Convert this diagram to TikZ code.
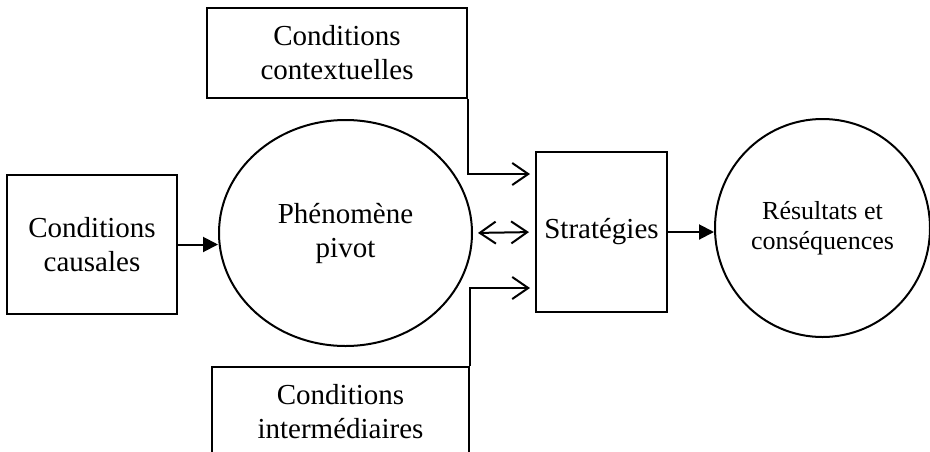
\documentclass[tikz,border=0pt]{standalone}
\usepackage{fontspec}
\setmainfont{Liberation Serif}
\usetikzlibrary{arrows.meta,shapes.geometric}
\begin{document}
\begin{tikzpicture}[x=1pt,y=-1pt,
  line width=2pt,
  box/.style={draw,rectangle,align=center,inner sep=0pt,font=\fontsize{29}{34}\selectfont},
  oval/.style={draw,ellipse,align=center,inner sep=0pt,font=\fontsize{29}{34}\selectfont},
  solidarrow/.style={-{Triangle[length=15pt,width=15pt]}},
  openarrow/.style={-{Straight Barb[length=16pt,width=22pt,line width=2pt]}},
  dblarrow/.style={{Straight Barb[length=16pt,width=22pt,line width=2pt]}-{Straight Barb[length=16pt,width=22pt,line width=2pt]}}]
\useasboundingbox (0,0) rectangle (930,451);
\clip (0,0) rectangle (930,451);
\node[box,minimum width=260pt,minimum height=90pt] (ctx) at (337,53) {Conditions\\contextuelles};
\node[box,minimum width=170pt,minimum height=139pt] (cau) at (92,244.5) {Conditions\\causales};
\node[oval,minimum width=253pt,minimum height=226pt] (phen) at (345.5,233) {Phénomène\\pivot};
\node[box,minimum width=131pt,minimum height=160pt] (strat) at (601.5,232) {Stratégies};
\node[oval,minimum width=215pt,minimum height=218pt,font=\fontsize{26}{30}\selectfont] (res) at (822.5,228) {Résultats et\\conséquences};
\node[box,minimum width=257pt,minimum height=90pt] (inter) at (340.5,412) {Conditions\\intermédiaires};
\coordinate (ctxin) at (530,174);
\coordinate (intin) at (530,288);
\draw[solidarrow] (cau.east) -- (cau.east -| phen.west);
\draw[dblarrow,shorten <=5pt,shorten >=6pt] (phen.east) -- (strat.west);
\draw[solidarrow] (strat.east) -- (strat.east -| res.west);
\draw[openarrow] (ctx.south east) |- (ctxin);
\draw[openarrow] (inter.north east) |- (intin);
\end{tikzpicture}
\end{document}
